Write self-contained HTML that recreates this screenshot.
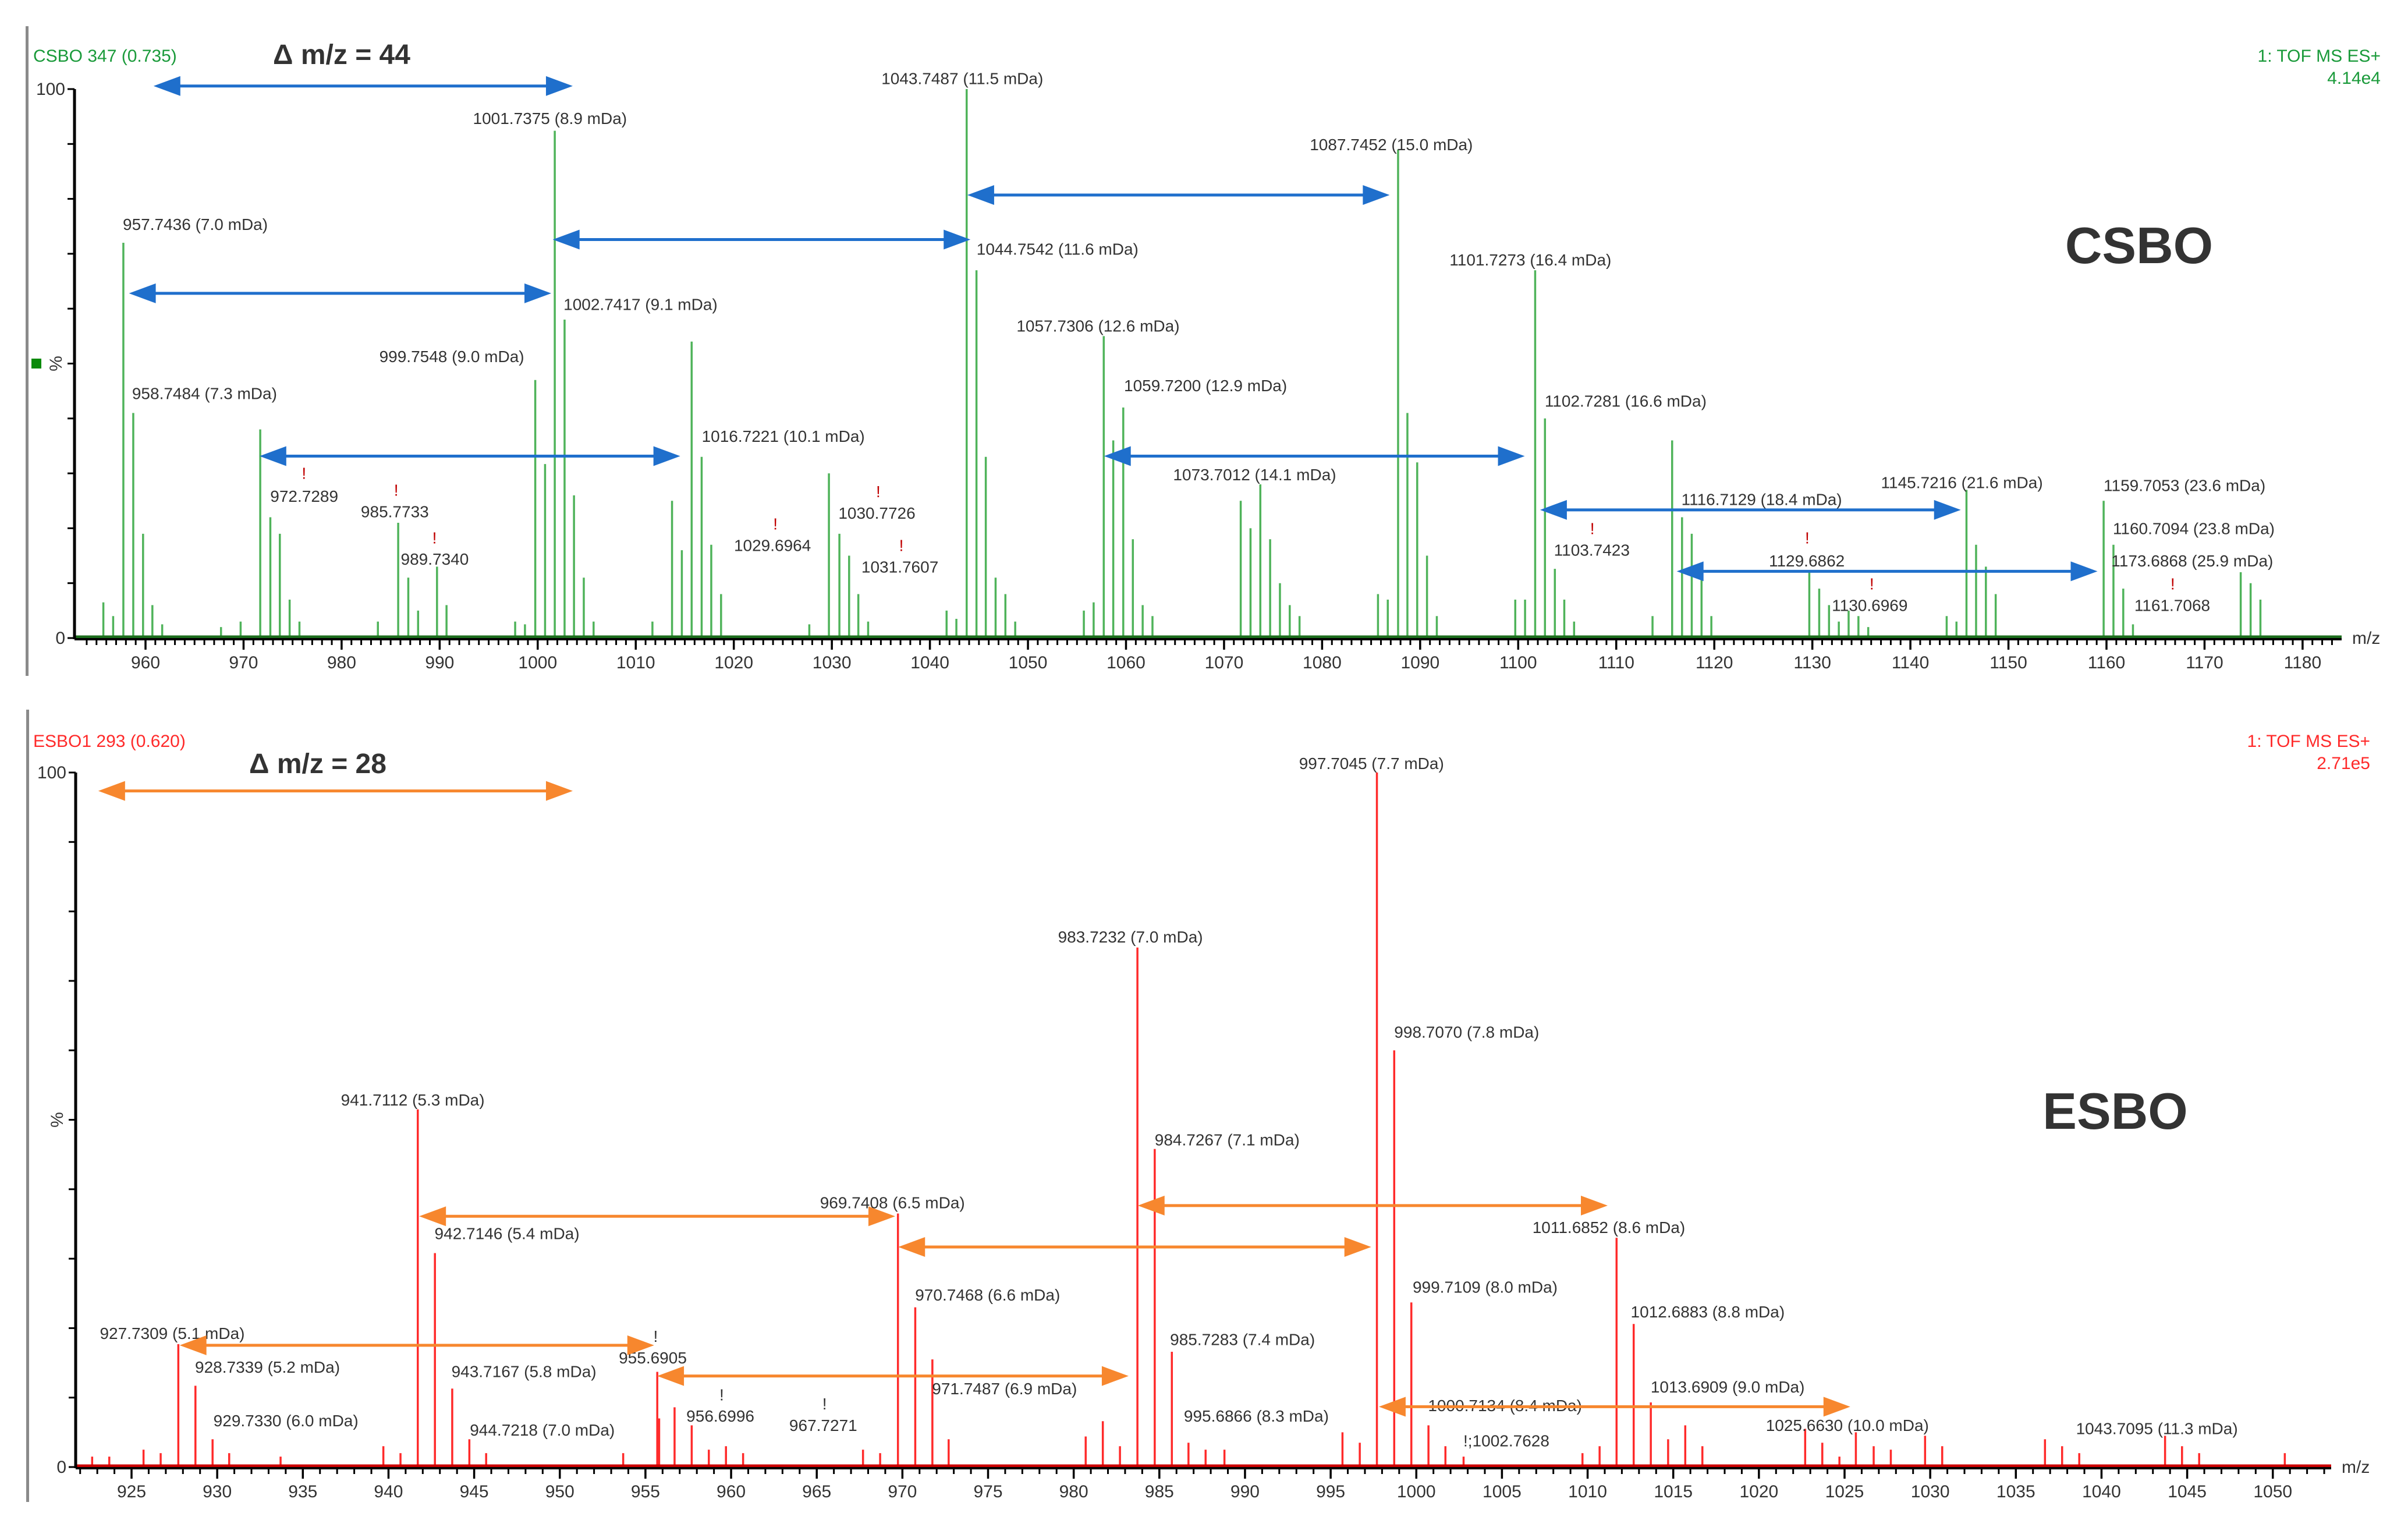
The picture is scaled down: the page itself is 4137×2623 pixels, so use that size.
<!DOCTYPE html>
<html><head><meta charset="utf-8"><style>
html,body{margin:0;padding:0;background:#fff;}
svg{display:block;font-family:"Liberation Sans",Arial,sans-serif;}
</style></head><body>
<svg id="chart" width="4137" height="2623" viewBox="0 0 4137 2623" xmlns="http://www.w3.org/2000/svg">
<rect width="4137" height="2623" fill="#fff"/>
<rect x="44" y="45" width="5" height="1116" fill="#8a8a8a"/>
<rect x="45" y="1219" width="5" height="1361" fill="#8a8a8a"/>
<g id="topPanel"></g><g id="botPanel"></g>
</svg>
<script>
// ---- CSBO (top) data ----
const csboMz=[955.7,956.7,957.74,958.75,959.75,960.7,961.7,967.7,969.7,971.7,972.73,973.7,974.7,975.7,983.7,985.77,986.8,987.8,989.73,990.7,997.7,998.7,999.75,1000.75,1001.74,1002.74,1003.7,1004.7,1005.7,1011.7,1013.7,1014.7,1015.7,1016.72,1017.7,1018.7,1027.7,1029.7,1030.77,1031.76,1032.7,1033.7,1041.7,1042.7,1043.75,1044.75,1045.7,1046.7,1047.7,1048.7,1055.7,1056.7,1057.73,1058.7,1059.72,1060.7,1061.7,1062.7,1071.7,1072.7,1073.7,1074.7,1075.7,1076.7,1077.7,1085.7,1086.7,1087.75,1088.7,1089.7,1090.7,1091.7,1099.7,1100.7,1101.73,1102.73,1103.74,1104.7,1105.7,1113.7,1115.7,1116.71,1117.7,1118.7,1119.7,1129.69,1130.7,1131.7,1132.7,1133.7,1134.7,1135.7,1143.7,1144.7,1145.72,1146.7,1147.7,1148.7,1159.71,1160.71,1161.71,1162.7,1173.69,1174.7,1175.7];
const csboPct=[6.5,4,72,41,19,6,2.5,2,3,38,22,19,7,3,3,21,11,5,13,6,3,2.5,47,31.7,92.4,58,26,11,3,3,25,16,54,33,17,8,2.5,30,19,15,8,3,5,3.5,100,67,33,11,8,3,5,6.5,55,36,42,18,6,4,25,20,28,18,10,6,4,8,7,89,41,32,15,4,7,7,67,40,12.6,7,3,4,36,22,19,12,4,12,9,6,3,5,4,2,4,3,27,17,13,8,25,17,9,2.5,12,10,7];
const csboTicks=[960,970,980,990,1000,1010,1020,1030,1040,1050,1060,1070,1080,1090,1100,1110,1120,1130,1140,1150,1160,1170,1180];
// ---- ESBO (bottom) data ----
const esboMz=[922.7,923.7,925.7,926.7,927.73,928.73,929.73,930.7,933.7,939.7,940.7,941.71,942.71,943.72,944.72,945.7,953.7,955.69,955.8,956.7,957.7,958.7,959.7,960.7,967.7,968.7,969.74,970.75,971.75,972.7,980.7,981.7,982.7,983.72,984.73,985.73,986.7,987.7,988.8,995.69,996.7,997.7,998.71,999.71,1000.71,1001.7,1002.76,1009.7,1010.7,1011.69,1012.69,1013.69,1014.7,1015.7,1016.7,1022.7,1023.7,1024.7,1025.66,1026.7,1027.7,1029.7,1030.7,1036.7,1037.7,1038.7,1043.71,1044.7,1045.7,1050.7];
const esboPct=[1.5,1.5,2.5,2,17.7,11.7,4,2,1.5,3,2,51.5,30.8,11.3,4,2,2,13.7,7,8.6,6,2.5,3,2,2.5,2,36.5,23,15.5,4,4.4,6.6,3,74.8,45.8,16.6,3.5,2.5,2.5,5,3.5,100,60,23.7,6,3,1.5,2,3,33,20.6,9.3,4,6,3,5.5,3.5,1.5,5,3,2.5,4.5,3,4,3,2,4.5,3,2,2];
const esboTicks=[925,930,935,940,945,950,955,960,965,970,975,980,985,990,995,1000,1005,1010,1015,1020,1025,1030,1035,1040,1045,1050];

const K=2.638;
const NS="http://www.w3.org/2000/svg";
function mk(p,tag,at){const e=document.createElementNS(NS,tag);for(const k in at)e.setAttribute(k,at[k]);p.appendChild(e);return e;}
const xT=m=>250+(m-960)*16.845, yT=p=>1096-p*9.43;
const xB=m=>226+(m-925)*29.43, yB=p=>2520-p*11.93;

function panel(g,xs,ys,mzs,pcts,ticks,x0,x1,axX,color,baseColor,minorStep){
  for(let i=0;i<mzs.length;i++){
    const l=mk(g,'line',{x1:xs(mzs[i]),x2:xs(mzs[i]),y1:ys(0),y2:ys(pcts[i]),stroke:color,'stroke-width':3.5});
    
    
  }
  const b=mk(g,'line',{x1:axX,x2:x1,y1:ys(0)-2,y2:ys(0)-2,stroke:baseColor,'stroke-width':5});
  
  
  const xa=mk(g,'line',{x1:axX,x2:x1,y1:ys(0)+2,y2:ys(0)+2,stroke:'#000','stroke-width':4});
  
  
  const ya=mk(g,'line',{x1:axX,x2:axX,y1:ys(100),y2:ys(0)+2,stroke:'#000','stroke-width':5});
  
  
  for(let p=0;p<=100;p+=10){mk(g,'line',{x1:axX-12,x2:axX,y1:ys(p),y2:ys(p),stroke:'#000','stroke-width':3});}
  for(let m=Math.ceil(x0);xs(m)<x1;m+=minorStep){mk(g,'line',{x1:xs(m),x2:xs(m),y1:ys(0)+2,y2:ys(0)+12,stroke:'#000','stroke-width':3});}
  ticks.forEach(t=>{
    mk(g,'line',{x1:xs(t),x2:xs(t),y1:ys(0)+2,y2:ys(0)+20,stroke:'#000','stroke-width':3.5});
    const tx=mk(g,'text',{x:xs(t),y:ys(0)+52,'text-anchor':'middle','font-size':30,fill:'#333'});tx.textContent=t;
    
    
  });
  const y100=mk(g,'text',{x:axX-16,y:ys(100)+10,'text-anchor':'end','font-size':30,fill:'#333'});y100.textContent='100';
  
  
  const y0=mk(g,'text',{x:axX-16,y:ys(0)+10,'text-anchor':'end','font-size':30,fill:'#333'});y0.textContent='0';
  
  
  const pc=mk(g,'text',{x:0,y:0,'text-anchor':'middle','font-size':30,fill:'#333',transform:`translate(${axX-22},${ys(50)}) rotate(-90)`});pc.textContent='%';
  
  
  const mz=mk(g,'text',{x:x1+18,y:ys(0)+10,'font-size':30,fill:'#333'});mz.textContent='m/z';
  
  
}
const gTop=document.getElementById('topPanel'), gBot=document.getElementById('botPanel');
panel(gTop,xT,yT,csboMz,csboPct,csboTicks,953.7,4023,128,'#4fb35a','#1d6e1d',1);
panel(gBot,xB,yB,esboMz,esboPct,esboTicks,921.8,4005,130,'#ff2a2a','#cc0000',1);

function txt(g,x,y,s,size,fill,anchor,weight,name){
  const t=mk(g,'text',{x:x,y:y,'font-size':size,fill:fill,'text-anchor':anchor||'start','font-weight':weight||'normal'});
  t.textContent=s;
  
  
  return t;
}
txt(gTop,57,106,'CSBO 347 (0.735)',30,'#1a9a3a','start','normal','spectrum-title');
txt(gTop,4090,106,'1: TOF MS ES+',30,'#1a9a3a','end','normal','scan-info');
txt(gTop,4090,144,'4.14e4',30,'#1a9a3a','end','normal','intensity-scale');
txt(gTop,3675,452,'CSBO',88,'#333','middle','bold','sample-label');
txt(gTop,469,110,'Δ m/z = 44',48,'#333','start','bold','delta-label');
const gm=mk(gTop,'rect',{x:54,y:616,width:17,height:17,fill:'#0a8a0a'});


txt(gBot,57,1283,'ESBO1 293 (0.620)',30,'#ff2a2a','start','normal','spectrum-title');
txt(gBot,4072,1283,'1: TOF MS ES+',30,'#ff2a2a','end','normal','scan-info');
txt(gBot,4072,1321,'2.71e5',30,'#ff2a2a','end','normal','intensity-scale');
txt(gBot,3634,1939,'ESBO',88,'#333','middle','bold','sample-label');
txt(gBot,428,1328,'Δ m/z = 28',48,'#333','start','bold','delta-label');

const topLabels=[["1043.7487 (11.5 mDa)",574,51],["1001.7375 (8.9 mDa)",308,77],["1087.7452 (15.0 mDa)",853,94],["957.7436 (7.0 mDa)",80,146],["1044.7542 (11.6 mDa)",636,162],["1101.7273 (16.4 mDa)",944,169],["1002.7417 (9.1 mDa)",367,198],["1057.7306 (12.6 mDa)",662,212],["999.7548 (9.0 mDa)",247,232],["1059.7200 (12.9 mDa)",732,251],["958.7484 (7.3 mDa)",86,256],["1102.7281 (16.6 mDa)",1006,261],["1016.7221 (10.1 mDa)",457,284],["1073.7012 (14.1 mDa)",764,309],["1145.7216 (21.6 mDa)",1225,314],["1159.7053 (23.6 mDa)",1370,316],["1116.7129 (18.4 mDa)",1095,325],["972.7289",176,323],["985.7733",235,333],["1030.7726",546,334],["1160.7094 (23.8 mDa)",1376,344],["1029.6964",478,355],["1103.7423",1012,358],["989.7340",261,364],["1173.6868 (25.9 mDa)",1375,365],["1129.6862",1152,365],["1031.7607",561,369],["1130.6969",1193,394],["1161.7068",1390,394]];
const topBangs=[[198,308],[258,319],[572,320],[505,341],[1037,344],[283,350],[1177,350],[587,355],[1219,380],[1415,380]];
const botLabels=[["997.7045 (7.7 mDa)",846,497],["983.7232 (7.0 mDa)",689,610],["998.7070 (7.8 mDa)",908,672],["941.7112 (5.3 mDa)",222,716],["984.7267 (7.1 mDa)",752,742],["969.7408 (6.5 mDa)",534,783],["1011.6852 (8.6 mDa)",998,799],["942.7146 (5.4 mDa)",283,803],["999.7109 (8.0 mDa)",920,838],["970.7468 (6.6 mDa)",596,843],["1012.6883 (8.8 mDa)",1062,854],["927.7309 (5.1 mDa)",65,868],["985.7283 (7.4 mDa)",762,872],["955.6905",403,884],["928.7339 (5.2 mDa)",127,890],["943.7167 (5.8 mDa)",294,893],["1013.6909 (9.0 mDa)",1075,903],["971.7487 (6.9 mDa)",607,904],["1000.7134 (8.4 mDa)",930,915],["967.7271",514,928],["995.6866 (8.3 mDa)",771,922],["956.6996",447,922],["929.7330 (6.0 mDa)",139,925],["1025.6630 (10.0 mDa)",1150,928],["1043.7095 (11.3 mDa)",1352,930],["944.7218 (7.0 mDa)",306,931],["!;1002.7628",953,938]];
const botBangs=[[427,870],[537,914],[470,908]];
topLabels.forEach(l=>txt(gTop,l[1]*K,l[2]*K+10,l[0],28,'#333','start','normal','peak-annotation'));
botLabels.forEach(l=>txt(gBot,l[1]*K,l[2]*K+10,l[0],28,'#333','start','normal','peak-annotation'));
topBangs.forEach(b=>txt(gTop,b[0]*K,b[1]*K+10,'!',28,'#c00000','middle','normal','warning-mark'));
botBangs.forEach(b=>txt(gBot,b[0]*K,b[1]*K+10,'!',28,'#333','middle','normal','warning-mark'));

const topArrows=[[100,373,56],[630,905,127],[360,632,156],[84,359,191],[169,443,297],[719,993,297],[1003,1277,332],[1092,1366,372]];
const botArrows=[[64,373,515],[741,1047,785],[273,583,792],[585,893,812],[117,426,876],[428,735,896],[898,1205,916]];
function arrow(g,a,color){
  const x1=a[0]*K,x2=a[1]*K,y=a[2]*K,h=46,w=17;
  const grp=mk(g,'g',{});
  
  
  mk(grp,'line',{x1:x1+h-4,x2:x2-h+4,y1:y,y2:y,stroke:color,'stroke-width':5});
  mk(grp,'polygon',{points:`${x1},${y} ${x1+h},${y-w} ${x1+h},${y+w}`,fill:color});
  mk(grp,'polygon',{points:`${x2},${y} ${x2-h},${y-w} ${x2-h},${y+w}`,fill:color});
}
topArrows.forEach(a=>arrow(gTop,a,'#1f6fcc'));
botArrows.forEach(a=>arrow(gBot,a,'#f7872e'));
</script>
</body></html>
